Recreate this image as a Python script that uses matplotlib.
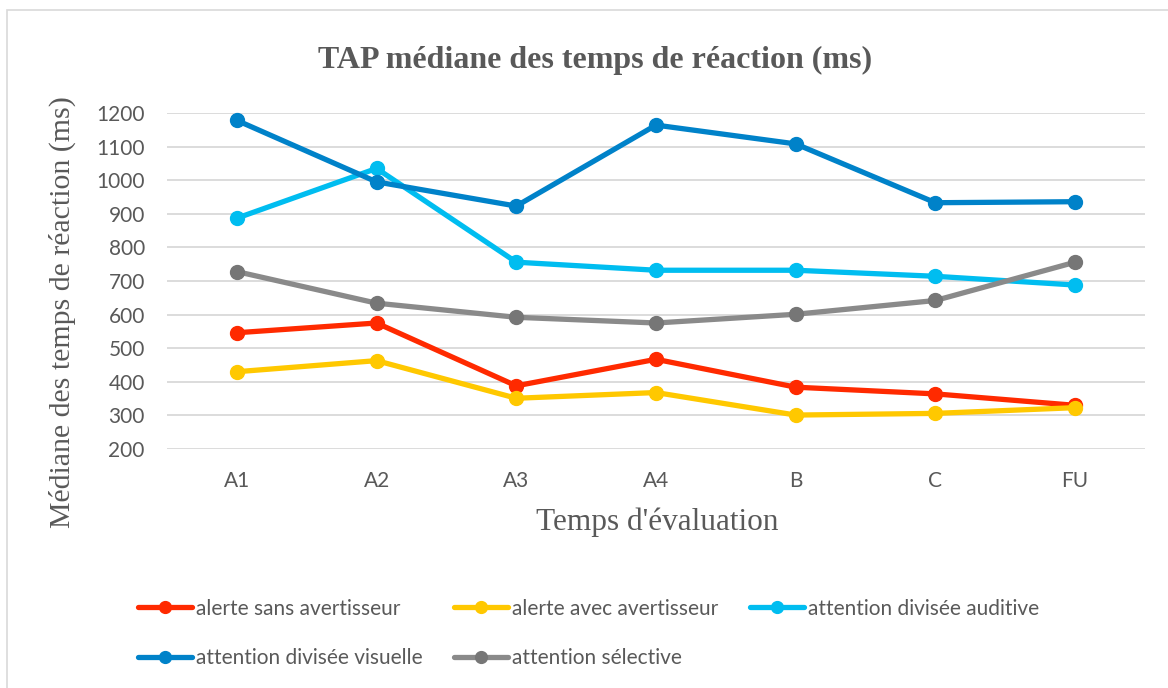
import matplotlib.pyplot as plt
from matplotlib.patches import Rectangle

categories = ["A1", "A2", "A3", "A4", "B", "C", "FU"]
alerte_sans = [546, 575, 388, 467, 384, 364, 330]
alerte_avec = [430, 463, 351, 368, 301, 306, 323]
div_auditive = [887, 1035, 756, 732, 732, 714, 688]
div_visuelle = [1178, 995, 923, 1164, 1108, 933, 936]
selective = [728, 634, 592, 575, 601, 642, 756]

series = [
    ("alerte sans avertisseur", alerte_sans, "#FF2A00", "#FF2A00"),
    ("alerte avec avertisseur", alerte_avec, "#FFC800", "#FFC800"),
    ("attention divisée auditive", div_auditive, "#00BDF0", "#00BDF0"),
    ("attention divisée visuelle", div_visuelle, "#0082C9", "#0082C9"),
    ("attention sélective", selective, "#8A8A8A", "#767676"),
]

txt = "#595959"
plt.rcParams['font.family'] = ['Lato', 'DejaVu Sans']

fig = plt.figure(figsize=(11.68, 6.88), dpi=100)
fig.patches.append(Rectangle((7 / 1168, -0.05), 1.2, 1 - 10 / 688 + 0.05,
                             transform=fig.transFigure, fill=False,
                             edgecolor="#D9D9D9", linewidth=1.2))

ax = fig.add_axes([167 / 1168, 1 - 449 / 688, (1145 - 167) / 1168, (449 - 113) / 688])
x = list(range(len(categories)))
lines = []
for name, vals, col, mcol in series:
    ln, = ax.plot(x, vals, color=col, lw=3.8, marker="o", markersize=10,
                  markerfacecolor=mcol, markeredgecolor=mcol, label=name,
                  solid_capstyle="round", clip_on=False)
    lines.append(ln)

ax.set_xlim(-0.5, 6.5)
ax.set_ylim(200, 1200)
ax.set_yticks(range(200, 1201, 100))
ax.set_xticks(x)
ax.set_xticklabels(categories)
ax.tick_params(length=0, labelsize=15, labelcolor=txt)
ax.tick_params(axis="x", pad=16)
ax.tick_params(axis="y", pad=16)
ax.grid(axis="y", color="#D9D9D9", lw=1.3)
ax.set_axisbelow(True)
for s in ax.spines.values():
    s.set_visible(False)

fig.text(595 / 1168, 1 - 60 / 688, "TAP médiane des temps de réaction (ms)",
         ha="center", va="center", fontsize=23, fontweight="bold",
         family="Liberation Serif", color=txt)
fig.text(657 / 1168, 1 - 522 / 688, "Temps d'évaluation", ha="center", va="center",
         fontsize=22.5, family="Liberation Serif", color=txt)
fig.text(62 / 1168, 1 - 312 / 688, "Médiane des temps de réaction (ms)", ha="center",
         va="center", rotation=90, fontsize=21.5, family="Liberation Serif", color=txt)

# legend is filled column by column, reorder so rows read like the original
order = [0, 3, 1, 4, 2]
leg = fig.legend([lines[i] for i in order], [series[i][0] for i in order],
                 loc="upper left", bbox_to_anchor=(119 / 1168, 1 - 580 / 688), ncol=3,
                 frameon=False, fontsize=15, handlelength=2.6, handletextpad=0.2,
                 columnspacing=1.5, labelspacing=1.4, markerscale=0.85)
for t in leg.get_texts():
    t.set_color(txt)

fig.savefig("out.png", dpi=100)
